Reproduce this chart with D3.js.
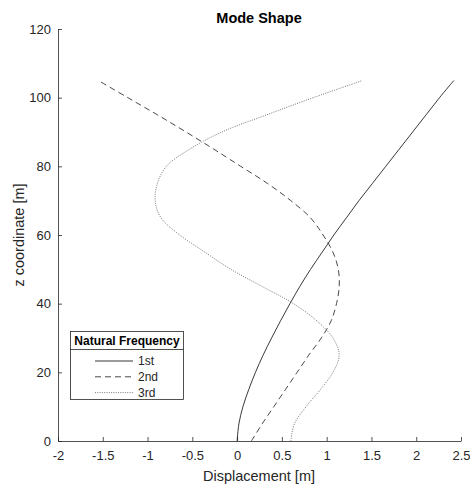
<!DOCTYPE html>
<html><head><meta charset="utf-8">
<script src="https://cdn.jsdelivr.net/npm/d3@7"></script>
<style>body{margin:0;background:#fff;} svg{display:block;font-family:"Liberation Sans",Arial,Helvetica,sans-serif;}</style>
</head><body>
<svg id="c" width="470" height="486"></svg>
<script>
const zCoords = [0,5,10,15,20,25,30,35,40,45,50,55,60,65,70,75,80,85,90,95,100,105];
const mode1 = [0,0.02,0.065,0.13,0.205,0.29,0.385,0.485,0.59,0.70,0.82,0.95,1.08,1.22,1.36,1.51,1.66,1.81,1.96,2.11,2.26,2.42];
const mode2 = [0.16,0.28,0.41,0.54,0.67,0.80,0.94,1.05,1.11,1.14,1.13,1.07,0.96,0.82,0.60,0.34,0.04,-0.26,-0.57,-0.89,-1.22,-1.55];
const mode3 = [0.60,0.64,0.77,0.93,1.07,1.14,1.07,0.89,0.63,0.28,-0.07,-0.36,-0.64,-0.85,-0.915,-0.89,-0.79,-0.53,-0.17,0.33,0.85,1.40];
const seriesNames = ["1st","2nd","3rd"];
const xTicks = [-2,-1.5,-1,-0.5,0,0.5,1,1.5,2,2.5];
const yTicks = [0,20,40,60,80,100,120];

const svg = d3.select("#c");
const x = d3.scaleLinear().domain([-2,2.5]).range([58,461]);
const y = d3.scaleLinear().domain([0,120]).range([441,29]);
const axisColor = "#262626";

const xAxis = svg.append("g").attr("transform","translate(0,441)")
  .call(d3.axisBottom(x).tickValues(xTicks).tickSizeInner(-4).tickSizeOuter(0).tickPadding(10).tickFormat(d=>String(d)));
const yAxis = svg.append("g").attr("transform","translate(58,0)")
  .call(d3.axisLeft(y).tickValues(yTicks).tickSizeInner(-4).tickSizeOuter(0).tickPadding(7).tickFormat(d=>String(d)));
[xAxis,yAxis].forEach(a=>{
  a.selectAll("path,line").attr("stroke",axisColor).attr("stroke-width",0.8);
  a.selectAll("text").attr("fill",axisColor).attr("font-size",13).attr("font-family","Liberation Sans, Arial, sans-serif");
});

const styles = [
  {dash:null, color:"#222", w:0.9},
  {dash:"6,4", color:"#333", w:0.9},
  {dash:"1,1.3", color:"#555", w:0.8}
];
const modes = [mode1,mode2,mode3];
const line = d3.line().x(d=>x(d[0])).y(d=>y(d[1])).curve(d3.curveCatmullRom.alpha(0.5));
modes.forEach((m,i)=>{
  svg.append("path").datum(m.map((v,j)=>[v,zCoords[j]]))
    .attr("d",line).attr("fill","none")
    .attr("stroke",styles[i].color).attr("stroke-width",styles[i].w)
    .attr("stroke-dasharray",styles[i].dash);
});

svg.append("text").attr("x",259).attr("y",23).attr("text-anchor","middle")
  .attr("font-size",14.5).attr("font-weight","bold").attr("fill","#000").text("Mode Shape");
svg.append("text").attr("x",259).attr("y",481).attr("text-anchor","middle")
  .attr("font-size",14.5).attr("fill",axisColor).text("Displacement [m]");
svg.append("text").attr("transform","translate(24,235) rotate(-90)").attr("text-anchor","middle")
  .attr("font-size",14.5).attr("fill",axisColor).text("z coordinate [m]");

// legend
const lg = svg.append("g");
lg.append("rect").attr("x",70.5).attr("y",331.5).attr("width",113).attr("height",68)
  .attr("fill","#fff").attr("stroke",axisColor).attr("stroke-width",0.8);
lg.append("line").attr("x1",70.5).attr("x2",183.5).attr("y1",349.5).attr("y2",349.5)
  .attr("stroke",axisColor).attr("stroke-width",0.8);
lg.append("text").attr("x",127).attr("y",345).attr("text-anchor","middle")
  .attr("font-size",12).attr("font-weight","bold").attr("fill","#000").text("Natural Frequency");
seriesNames.forEach((n,i)=>{
  const yy = 361 + i*15.8;
  lg.append("line").attr("x1",95).attr("x2",133).attr("y1",yy).attr("y2",yy)
    .attr("stroke",styles[i].color).attr("stroke-width",styles[i].w).attr("stroke-dasharray",styles[i].dash);
  lg.append("text").attr("x",138).attr("y",yy+4).attr("font-size",12).attr("fill",axisColor).text(n);
});
</script>
</body></html>
